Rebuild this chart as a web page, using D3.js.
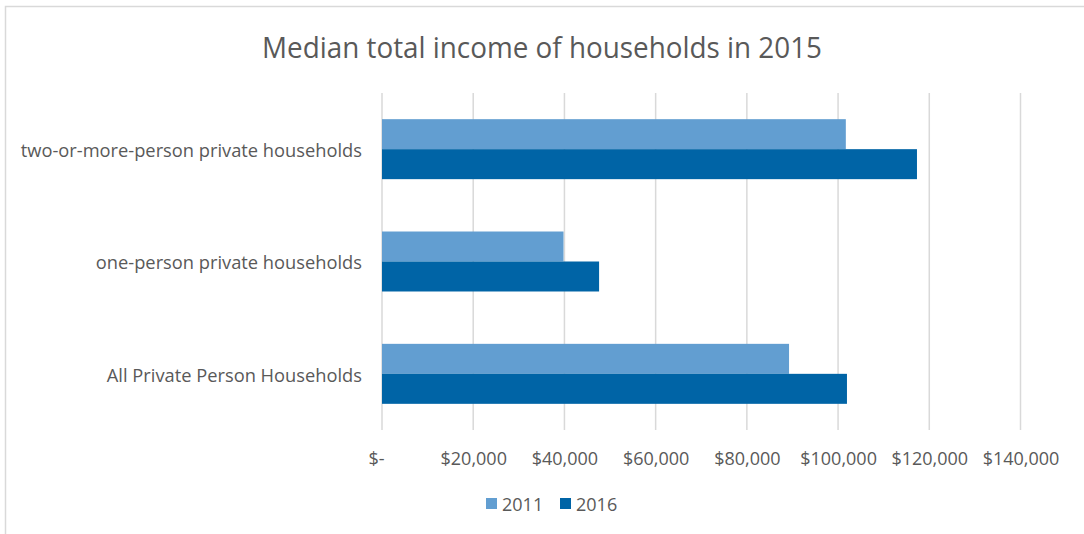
<!DOCTYPE html>
<html>
<head>
<meta charset="utf-8">
<script src="https://cdn.jsdelivr.net/npm/d3@7"></script>
<style>
  html, body { margin: 0; padding: 0; background: #fff; }
  svg { display: block; font-family: "Open Sans", "Liberation Sans", sans-serif; }
</style>
</head>
<body>
<svg id="chart" width="1084" height="534"></svg>
<script>
// Household types, listed top to bottom
const categories = [
  "two-or-more-person private households",
  "one-person private households",
  "All Private Person Households"
];
const seriesNames = ["2011", "2016"];
// Median total income (dollars) for each household type
const values2011 = [101700, 39800, 89250];
const values2016 = [117300, 47600, 101950];
const tickValues = [0, 20000, 40000, 60000, 80000, 100000, 120000, 140000];

const colors = { "2011": "#629ed1", "2016": "#0064a6" };
const textColor = "#595959";
const gridColor = "#d9d9d9";

const svg = d3.select("#chart");

// Outer chart frame
svg.append("rect")
  .attr("x", 5.5).attr("y", 6.5)
  .attr("width", 1200).attr("height", 600)
  .attr("fill", "none")
  .attr("stroke", gridColor)
  .attr("stroke-width", 1.5);

// Title, set in a slightly condensed form
svg.append("text")
  .attr("x", 542).attr("y", 58)
  .attr("text-anchor", "middle")
  .attr("fill", textColor)
  .attr("textLength", 560)
  .attr("lengthAdjust", "spacingAndGlyphs")
  .style("font-size", "30px")
  .text("Median total income of households in 2015");

const plot = { left: 382, right: 1020.5, top: 93, bottom: 430 };

const x = d3.scaleLinear()
  .domain([0, 140000])
  .range([plot.left, plot.right]);

const y = d3.scaleBand()
  .domain(categories)
  .range([plot.top, plot.bottom])
  .paddingInner(0.466)
  .paddingOuter(0.233);

const ySub = d3.scaleBand()
  .domain(seriesNames)
  .range([0, y.bandwidth()]);

// Vertical gridlines
svg.append("g")
  .selectAll("line")
  .data(tickValues)
  .join("line")
  .attr("x1", d => x(d)).attr("x2", d => x(d))
  .attr("y1", plot.top).attr("y2", plot.bottom)
  .attr("stroke", gridColor)
  .attr("stroke-width", 1.5);

// Bars
const rows = categories.map((c, i) => ({
  category: c,
  series: [
    { name: "2011", value: values2011[i] },
    { name: "2016", value: values2016[i] }
  ]
}));

const groups = svg.append("g")
  .selectAll("g")
  .data(rows)
  .join("g")
  .attr("transform", d => `translate(0,${y(d.category)})`);

groups.selectAll("rect")
  .data(d => d.series)
  .join("rect")
  .attr("x", x(0))
  .attr("y", d => ySub(d.name))
  .attr("width", d => x(d.value) - x(0))
  .attr("height", ySub.bandwidth())
  .attr("fill", d => colors[d.name]);

// Category labels
const yAxis = d3.axisLeft(y).tickSize(0).tickPadding(20);
const yAxisG = svg.append("g")
  .attr("transform", `translate(${plot.left},0)`)
  .call(yAxis);
yAxisG.select(".domain").remove();
yAxisG.selectAll("text")
  .attr("dy", "0.42em")
  .attr("fill", textColor)
  .style("font-size", "18.3px")
  .style("font-family", "'Open Sans', sans-serif");

// Value axis labels
const fmt = d3.format(",");
const xAxis = d3.axisBottom(x)
  .tickValues(tickValues)
  .tickSize(0)
  .tickPadding(0)
  .tickFormat(d => d === 0 ? "$-" : "$" + fmt(d));
const xAxisG = svg.append("g")
  .attr("transform", `translate(0,${plot.bottom})`)
  .call(xAxis);
xAxisG.select(".domain").remove();
xAxisG.selectAll("text")
  .attr("y", 35)
  .attr("dy", 0)
  .attr("dx", d => d === 0 ? -6 : 0)
  .attr("fill", textColor)
  .style("font-size", "18px")
  .style("font-family", "'Open Sans', sans-serif");

// Legend
const legend = svg.append("g")
  .selectAll("g")
  .data(seriesNames)
  .join("g")
  .attr("transform", (d, i) => `translate(${486 + i * 74},498)`);
legend.append("rect")
  .attr("width", 11).attr("height", 11)
  .attr("fill", d => colors[d]);
legend.append("text")
  .attr("x", 16).attr("y", 12.5)
  .attr("fill", textColor)
  .style("font-size", "18px")
  .text(d => d);
</script>
</body>
</html>
